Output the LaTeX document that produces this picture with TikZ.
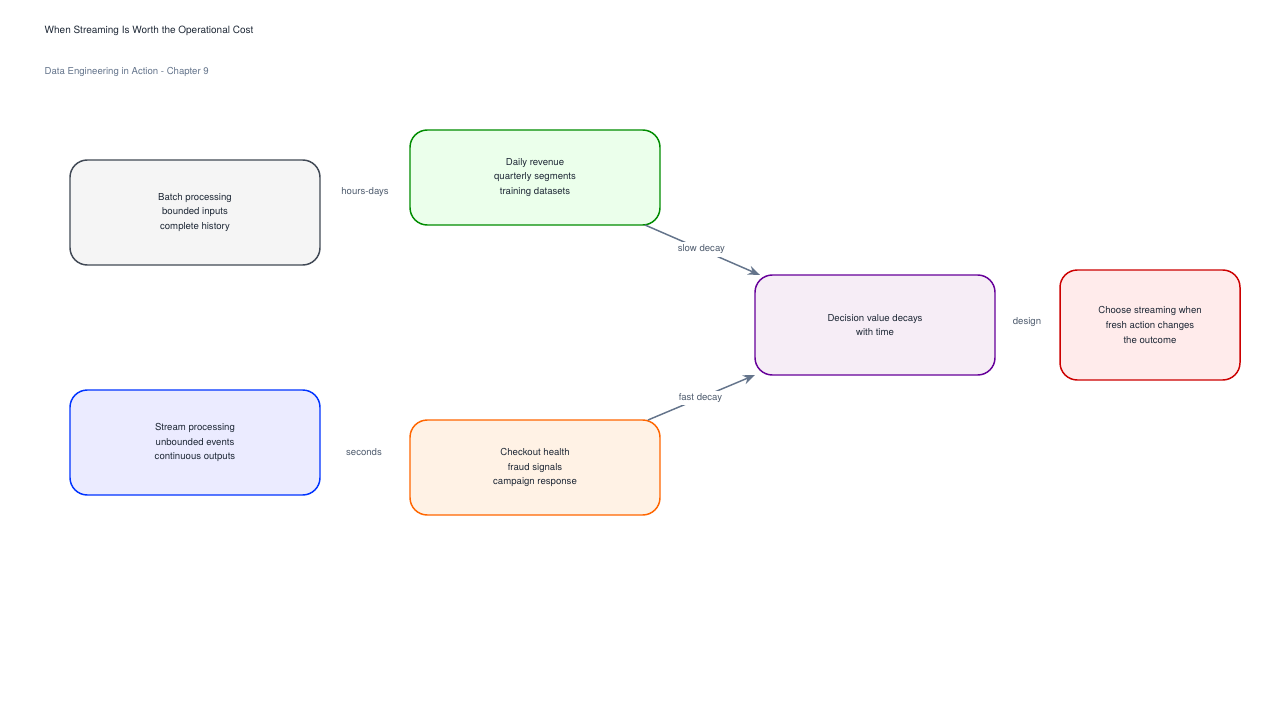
\documentclass[tikz,border=0pt]{standalone}
\usepackage{fontspec}
\setmainfont{TeX Gyre Heros}
\usetikzlibrary{arrows.meta}
\definecolor{ink}{HTML}{1F2937}
\definecolor{muted}{HTML}{64748B}
\tikzset{
  box/.style={draw=#1, line width=1.1pt, rounded corners=13pt, align=center, font=\fontsize{7.2}{11}\selectfont, text=ink},
  lbl/.style={font=\fontsize{7.2}{9}\selectfont, text=muted!80!black, fill=white, inner sep=2pt},
  conn/.style={draw=muted, line width=1.1pt, -{Stealth[length=9pt,width=7pt]}},
}
\begin{document}
\begin{tikzpicture}[x=0.75pt,y=-0.75pt]
\useasboundingbox (0,0) rectangle (1280,720);
\node[anchor=west, font=\fontsize{7.5}{9}\selectfont, text=ink] (title) at (40,31) {When Streaming Is Worth the Operational Cost};
\node[anchor=west, font=\fontsize{7.2}{9}\selectfont, text=muted] (sub) at (40,72) {Data Engineering in Action - Chapter 9};

\node[box={ink!85}, fill=gray!8, minimum width=187.5pt, minimum height=78.75pt] (batch) at (195,212.5) {Batch processing\\bounded inputs\\complete history};
\node[box={green!55!black}, fill=green!8, minimum width=187.5pt, minimum height=71.25pt] (daily) at (535,177.5) {Daily revenue\\quarterly segments\\training datasets};
\node[box={blue!80!cyan}, fill=blue!8, minimum width=187.5pt, minimum height=78.75pt] (stream) at (195,442.5) {Stream processing\\unbounded events\\continuous outputs};
\node[box={orange!80!red}, fill=orange!10, minimum width=187.5pt, minimum height=71.25pt] (check) at (535,467.5) {Checkout health\\fraud signals\\campaign response};
\node[box={violet!80!blue}, fill=violet!7, minimum width=180pt, minimum height=75pt] (decay) at (875,325) {Decision value decays\\with time};
\node[box={red!80!black}, fill=red!8, minimum width=135pt, minimum height=82.5pt] (choose) at (1150,325) {Choose streaming when\\fresh action changes\\the outcome};

\node[lbl] (l1) at (365,192) {hours-days};
\node[lbl] (l2) at (364,452) {seconds};
\node[lbl] (l3) at (1027,322) {design};

\coordinate (s1) at (645,225);
\coordinate (e1) at (760,275);
\coordinate (s2) at (648,420);
\coordinate (e2) at (755,375);
\draw[conn] (s1) -- node[lbl, pos=0.49]{slow decay} (e1);
\draw[conn] (s2) -- node[lbl, pos=0.49]{fast decay} (e2);
\end{tikzpicture}
\end{document}
